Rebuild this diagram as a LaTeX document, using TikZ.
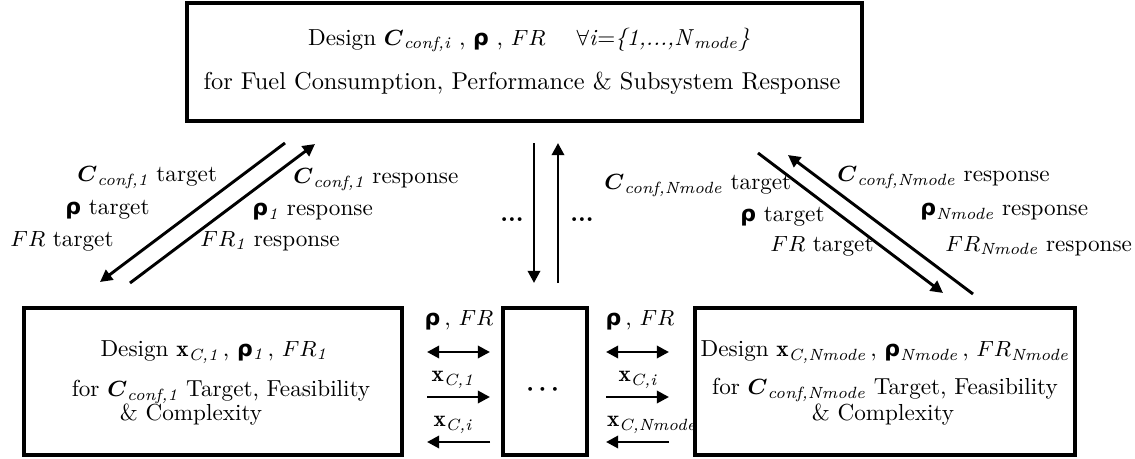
\documentclass[tikz,border=0pt]{standalone}
\usepackage{amsmath}
\usepackage{fontspec}
\usetikzlibrary{arrows.meta, calc}
\newfontfamily\rhofont{DejaVu Sans}[Scale=0.95]
\newcommand{\brho}{{\rhofont\bfseries ρ}}
\newcommand{\Cconf}[1]{$\boldsymbol{C}_{\textit{#1}}$}
\newcommand{\xvec}[1]{$\mathbf{x}_{\textit{#1}}$}
\newcommand{\lblfont}{\fontsize{9.5}{11}\selectfont}

\begin{document}
\begin{tikzpicture}[
    x=0.41pt, y=-0.41pt,   % pixel grid, y runs down
    box/.style={line width=1.6pt},
    flow/.style={line width=1.2pt, -{Triangle[length=5pt, width=5pt]}},
    swap/.style={line width=1.2pt, {Triangle[length=5pt, width=5pt]}-{Triangle[length=5pt, width=5pt]}},
    txt/.style={font=\lblfont},
    lbl/.style={txt, inner sep=0pt, anchor=west}
]
    \useasboundingbox (0,0) rectangle (1135,459);

    % === SYSTEM LEVEL BOX ===
    \draw[box] (187,3) rectangle (862,121);
    \node[txt] (topA) at (529,40) {Design \Cconf{conf,i} , \brho{} , $FR$ \quad $\forall$\textit{i}=\textit{\{1,...,N}$_{\textit{mode}}$\textit{\}}};
    \node (topB) at (522,83) {for Fuel Consumption, Performance \& Subsystem Response};

    % === SUBSYSTEM BOXES ===
    \draw[box] (24,308) rectangle (402,455);
    \node[txt] (leftA) at (214,352) {Design \xvec{C,1}\,, \brho$_{\textit{1}}$\,, $FR_{\textit{1}}$};
    \node[txt] (leftB) at (221,392) {for \Cconf{conf,1} Target, Feasibility};
    \node[txt] (leftC) at (191,415) {\& Complexity};

    \draw[box] (503,308) rectangle (587,455);
    \node (midDots) at (545,390) {$\boldsymbol{\cdots}$};

    \draw[box] (695,308) rectangle (1075,455);
    \node[txt] (rightA) at (885,352) {Design \xvec{C,Nmode}\,, \brho$_{\textit{Nmode}}$\,, $FR_{\textit{Nmode}}$};
    \node[txt] (rightB) at (885,390) {for \Cconf{conf,Nmode} Target, Feasibility};
    \node[txt] (rightC) at (883,415) {\& Complexity};

    % === LINKS TO MODE 1 ===
    \coordinate (L1a) at (285,143);
    \coordinate (L1b) at (100,282);
    \coordinate (L2a) at (130,283);
    \coordinate (L2b) at (315,144);
    \draw[flow] (L1a) -- (L1b);
    \draw[flow] (L2a) -- (L2b);
    \node[lbl] (tC1) at (77,178) {\Cconf{conf,1} target};
    \node[lbl] (tR1) at (65,210) {\brho{} target};
    \node[lbl] (tF1) at (10,241) {$FR$ target};
    \node[lbl] (rC1) at (293,180) {\Cconf{conf,1} response};
    \node[lbl] (rR1) at (252,212) {\brho$_{\textit{1}}$ response};
    \node[lbl] (rF1) at (200,241) {$FR_{\textit{1}}$ response};

    % === LINKS TO MODE i ===
    \coordinate (M1a) at (534,143);
    \coordinate (M1b) at (534,283);
    \coordinate (M2a) at (558,283);
    \coordinate (M2b) at (558,143);
    \draw[flow] (M1a) -- (M1b);
    \draw[flow] (M2a) -- (M2b);
    \node (dotsL) at (512,220) {\textbf{...}};
    \node (dotsR) at (582,220) {\textbf{...}};

    % === LINKS TO MODE Nmode ===
    \coordinate (R1a) at (758,153);
    \coordinate (R1b) at (943,293);
    \coordinate (R2a) at (973,294);
    \coordinate (R2b) at (788,155);
    \draw[flow] (R1a) -- (R1b);
    \draw[flow] (R2a) -- (R2b);
    \node[lbl] (tCN) at (604,186) {\Cconf{conf,Nmode} target};
    \node[lbl] (tRN) at (740,217) {\brho{} target};
    \node[lbl] (tFN) at (770,246) {$FR$ target};
    \node[lbl] (rCN) at (837,178) {\Cconf{conf,Nmode} response};
    \node[lbl] (rRN) at (920,212) {\brho$_{\textit{Nmode}}$ response};
    \node[lbl] (rFN) at (945,246) {$FR_{\textit{Nmode}}$ response};

    % === COUPLING BETWEEN SUBSYSTEMS ===
    \coordinate (hL1a) at (427,352); \coordinate (hL1b) at (490,352);
    \coordinate (hL2a) at (427,397); \coordinate (hL2b) at (490,397);
    \coordinate (hL3a) at (490,442); \coordinate (hL3b) at (427,442);
    \draw[swap] (hL1a) -- (hL1b);
    \draw[flow] (hL2a) -- (hL2b);
    \draw[flow] (hL3a) -- (hL3b);
    \node[txt] (cL1) at (459,320) {\brho\,, $FR$};
    \node[txt] (cL2) at (453,380) {\xvec{C,1}};
    \node[txt] (cL3) at (453,425) {\xvec{C,i}};

    \coordinate (hR1a) at (606,352); \coordinate (hR1b) at (669,352);
    \coordinate (hR2a) at (606,397); \coordinate (hR2b) at (669,397);
    \coordinate (hR3a) at (669,442); \coordinate (hR3b) at (606,442);
    \draw[swap] (hR1a) -- (hR1b);
    \draw[flow] (hR2a) -- (hR2b);
    \draw[flow] (hR3a) -- (hR3b);
    \node[txt] (cR1) at (640,320) {\brho\,, $FR$};
    \node[txt] (cR2) at (638,380) {\xvec{C,i}};
    \node[txt] (cR3) at (652,425) {\xvec{C,Nmode}};
\end{tikzpicture}
\end{document}
